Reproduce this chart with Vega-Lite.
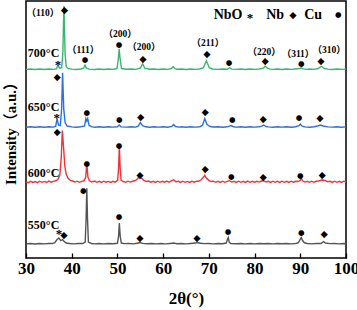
{
  "$schema": "https://vega.github.io/schema/vega-lite/v6.json",
  "width": 320,
  "height": 257,
  "autosize": {"type": "none"},
  "padding": {"left": 26, "top": 1, "right": 11, "bottom": 52},
  "config": {
    "view": {"stroke": "black", "strokeWidth": 1.5},
    "font": "Liberation Serif"
  },
  "datasets": {
    "lines": [
      {"s":"700","t":30,"i":189.4},{"s":"700","t":31,"i":189.8},{"s":"700","t":32,"i":189.3},{"s":"700","t":33,"i":189.7},{"s":"700","t":34,"i":189.2},{"s":"700","t":35,"i":189.8},{"s":"700","t":36,"i":189.4},{"s":"700","t":36.6,"i":189.9},{"s":"700","t":37.0,"i":193},{"s":"700","t":37.4,"i":190.5},{"s":"700","t":37.8,"i":191},{"s":"700","t":38.05,"i":205},{"s":"700","t":38.3,"i":253},{"s":"700","t":38.55,"i":205},{"s":"700","t":38.8,"i":192},{"s":"700","t":39.2,"i":190.3},{"s":"700","t":40,"i":189.6},{"s":"700","t":41,"i":189.3},{"s":"700","t":42,"i":189.8},{"s":"700","t":42.6,"i":190.5},{"s":"700","t":42.9,"i":193.5},{"s":"700","t":43.2,"i":190.6},{"s":"700","t":43.8,"i":189.6},{"s":"700","t":45,"i":189.3},{"s":"700","t":46,"i":189.7},{"s":"700","t":47,"i":189.3},{"s":"700","t":48,"i":189.8},{"s":"700","t":49,"i":189.4},{"s":"700","t":49.9,"i":190.2},{"s":"700","t":50.2,"i":200},{"s":"700","t":50.38,"i":210},{"s":"700","t":50.58,"i":200},{"s":"700","t":50.9,"i":190.2},{"s":"700","t":52,"i":189.5},{"s":"700","t":53,"i":189.8},{"s":"700","t":54,"i":189.4},{"s":"700","t":55.0,"i":190.5},{"s":"700","t":55.5,"i":195},{"s":"700","t":56.0,"i":190.5},{"s":"700","t":57,"i":189.5},{"s":"700","t":58,"i":189.8},{"s":"700","t":59,"i":189.3},{"s":"700","t":60,"i":189.7},{"s":"700","t":61,"i":189.4},{"s":"700","t":61.8,"i":190.2},{"s":"700","t":62.2,"i":192},{"s":"700","t":62.6,"i":190},{"s":"700","t":63,"i":189.5},{"s":"700","t":64,"i":189.8},{"s":"700","t":65,"i":189.3},{"s":"700","t":66,"i":189.7},{"s":"700","t":67,"i":189.4},{"s":"700","t":68,"i":189.8},{"s":"700","t":68.8,"i":191},{"s":"700","t":69.45,"i":198},{"s":"700","t":70.1,"i":191},{"s":"700","t":70.8,"i":189.8},{"s":"700","t":72,"i":189.4},{"s":"700","t":73,"i":189.8},{"s":"700","t":74,"i":189.5},{"s":"700","t":74.5,"i":191},{"s":"700","t":75,"i":189.6},{"s":"700","t":76,"i":189.4},{"s":"700","t":77,"i":189.8},{"s":"700","t":78,"i":189.3},{"s":"700","t":79,"i":189.7},{"s":"700","t":80,"i":189.4},{"s":"700","t":81,"i":189.8},{"s":"700","t":81.9,"i":190.6},{"s":"700","t":82.3,"i":192.5},{"s":"700","t":82.8,"i":190.5},{"s":"700","t":83.5,"i":189.6},{"s":"700","t":84,"i":189.4},{"s":"700","t":85,"i":189.8},{"s":"700","t":86,"i":189.3},{"s":"700","t":87,"i":189.7},{"s":"700","t":88,"i":189.4},{"s":"700","t":89,"i":189.8},{"s":"700","t":89.8,"i":190.2},{"s":"700","t":90.2,"i":191},{"s":"700","t":90.6,"i":189.8},{"s":"700","t":91.5,"i":189.4},{"s":"700","t":92,"i":189.7},{"s":"700","t":93,"i":189.4},{"s":"700","t":93.9,"i":190.2},{"s":"700","t":94.6,"i":192.5},{"s":"700","t":95.3,"i":190.2},{"s":"700","t":96,"i":189.6},{"s":"700","t":97,"i":189.3},{"s":"700","t":98,"i":189.8},{"s":"700","t":99,"i":189.4},{"s":"700","t":100,"i":189.6},

      {"s":"650","t":30,"i":131.3},{"s":"650","t":31,"i":131.7},{"s":"650","t":32,"i":131.2},{"s":"650","t":33,"i":131.8},{"s":"650","t":34,"i":131.3},{"s":"650","t":35,"i":131.7},{"s":"650","t":36,"i":131.4},{"s":"650","t":36.5,"i":132.3},{"s":"650","t":36.8,"i":140},{"s":"650","t":37.1,"i":133.5},{"s":"650","t":37.5,"i":133},{"s":"650","t":37.8,"i":150},{"s":"650","t":38.0,"i":186},{"s":"650","t":38.25,"i":150},{"s":"650","t":38.55,"i":136},{"s":"650","t":39,"i":132.5},{"s":"650","t":40,"i":131.6},{"s":"650","t":41,"i":131.3},{"s":"650","t":42,"i":131.8},{"s":"650","t":42.8,"i":132.5},{"s":"650","t":43.1,"i":140},{"s":"650","t":43.3,"i":137.5},{"s":"650","t":43.5,"i":140},{"s":"650","t":43.8,"i":133},{"s":"650","t":44.5,"i":131.6},{"s":"650","t":45,"i":131.3},{"s":"650","t":46,"i":131.8},{"s":"650","t":47,"i":131.3},{"s":"650","t":48,"i":131.7},{"s":"650","t":49,"i":131.4},{"s":"650","t":50,"i":131.8},{"s":"650","t":50.4,"i":133.5},{"s":"650","t":50.8,"i":131.6},{"s":"650","t":52,"i":131.4},{"s":"650","t":53,"i":131.8},{"s":"650","t":54,"i":131.4},{"s":"650","t":54.6,"i":132.6},{"s":"650","t":55.0,"i":136},{"s":"650","t":55.5,"i":132.8},{"s":"650","t":56.2,"i":131.7},{"s":"650","t":57,"i":131.3},{"s":"650","t":58,"i":131.8},{"s":"650","t":59,"i":131.4},{"s":"650","t":60,"i":131.7},{"s":"650","t":61,"i":131.3},{"s":"650","t":61.9,"i":132.2},{"s":"650","t":62.3,"i":134},{"s":"650","t":62.7,"i":132},{"s":"650","t":63.5,"i":131.4},{"s":"650","t":64,"i":131.8},{"s":"650","t":65,"i":131.3},{"s":"650","t":66,"i":131.7},{"s":"650","t":67,"i":131.4},{"s":"650","t":68,"i":131.8},{"s":"650","t":68.6,"i":133},{"s":"650","t":69.1,"i":140},{"s":"650","t":69.6,"i":134},{"s":"650","t":70.3,"i":132},{"s":"650","t":71,"i":131.5},{"s":"650","t":72,"i":131.8},{"s":"650","t":73,"i":131.3},{"s":"650","t":74,"i":131.7},{"s":"650","t":74.9,"i":133},{"s":"650","t":75.4,"i":131.7},{"s":"650","t":76,"i":131.4},{"s":"650","t":77,"i":131.8},{"s":"650","t":78,"i":131.3},{"s":"650","t":79,"i":131.7},{"s":"650","t":80,"i":131.4},{"s":"650","t":81,"i":131.8},{"s":"650","t":81.6,"i":132.4},{"s":"650","t":82,"i":133.5},{"s":"650","t":82.5,"i":132},{"s":"650","t":83,"i":131.6},{"s":"650","t":84,"i":131.3},{"s":"650","t":85,"i":131.8},{"s":"650","t":86,"i":131.4},{"s":"650","t":87,"i":131.7},{"s":"650","t":88,"i":131.3},{"s":"650","t":89,"i":131.8},{"s":"650","t":89.7,"i":132.8},{"s":"650","t":90,"i":134.5},{"s":"650","t":90.4,"i":132.3},{"s":"650","t":91,"i":131.6},{"s":"650","t":92,"i":131.3},{"s":"650","t":93,"i":131.8},{"s":"650","t":93.8,"i":132.5},{"s":"650","t":94.4,"i":133.5},{"s":"650","t":95,"i":132.5},{"s":"650","t":96,"i":131.6},{"s":"650","t":97,"i":131.4},{"s":"650","t":98,"i":131.8},{"s":"650","t":99,"i":131.3},{"s":"650","t":100,"i":131.6},

      {"s":"600","t":30,"i":76.5},{"s":"600","t":30.5,"i":75.6},{"s":"600","t":31,"i":77},{"s":"600","t":31.5,"i":75.8},{"s":"600","t":32,"i":76.8},{"s":"600","t":32.5,"i":75.7},{"s":"600","t":33,"i":77.1},{"s":"600","t":33.5,"i":76},{"s":"600","t":34,"i":76.9},{"s":"600","t":34.5,"i":75.8},{"s":"600","t":35,"i":77.2},{"s":"600","t":35.5,"i":76.1},{"s":"600","t":36,"i":77},{"s":"600","t":36.5,"i":77.5},{"s":"600","t":37,"i":79},{"s":"600","t":37.4,"i":83},{"s":"600","t":37.7,"i":100},{"s":"600","t":37.95,"i":128},{"s":"600","t":38.2,"i":112},{"s":"600","t":38.5,"i":92},{"s":"600","t":38.8,"i":84},{"s":"600","t":39.2,"i":80},{"s":"600","t":39.7,"i":78},{"s":"600","t":40.2,"i":77.3},{"s":"600","t":40.7,"i":76.2},{"s":"600","t":41.2,"i":77.1},{"s":"600","t":41.7,"i":76},{"s":"600","t":42.2,"i":77},{"s":"600","t":42.7,"i":77.5},{"s":"600","t":43.05,"i":81},{"s":"600","t":43.3,"i":95},{"s":"600","t":43.55,"i":81},{"s":"600","t":43.9,"i":77.5},{"s":"600","t":44.4,"i":76.3},{"s":"600","t":45,"i":77.2},{"s":"600","t":45.5,"i":76},{"s":"600","t":46,"i":77},{"s":"600","t":46.5,"i":75.9},{"s":"600","t":47,"i":77.1},{"s":"600","t":47.5,"i":76.1},{"s":"600","t":48,"i":76.9},{"s":"600","t":48.5,"i":75.8},{"s":"600","t":49,"i":77},{"s":"600","t":49.5,"i":76.2},{"s":"600","t":50.05,"i":78},{"s":"600","t":50.25,"i":90},{"s":"600","t":50.42,"i":113},{"s":"600","t":50.6,"i":90},{"s":"600","t":50.8,"i":78},{"s":"600","t":51.3,"i":76.8},{"s":"600","t":51.8,"i":76},{"s":"600","t":52.3,"i":77.1},{"s":"600","t":52.8,"i":76.2},{"s":"600","t":53.3,"i":77},{"s":"600","t":53.8,"i":77.5},{"s":"600","t":54.3,"i":79},{"s":"600","t":54.8,"i":81.5},{"s":"600","t":55.3,"i":80},{"s":"600","t":55.8,"i":78},{"s":"600","t":56.3,"i":76.8},{"s":"600","t":56.8,"i":77.2},{"s":"600","t":57.3,"i":76.1},{"s":"600","t":57.8,"i":77},{"s":"600","t":58.3,"i":75.9},{"s":"600","t":58.8,"i":77.1},{"s":"600","t":59.3,"i":76},{"s":"600","t":59.8,"i":77},{"s":"600","t":60.3,"i":76.1},{"s":"600","t":60.8,"i":77.2},{"s":"600","t":61.3,"i":76},{"s":"600","t":61.8,"i":77.5},{"s":"600","t":62.3,"i":78.5},{"s":"600","t":62.8,"i":76.5},{"s":"600","t":63.3,"i":77},{"s":"600","t":63.8,"i":75.9},{"s":"600","t":64.3,"i":77.1},{"s":"600","t":64.8,"i":76},{"s":"600","t":65.3,"i":76.9},{"s":"600","t":65.8,"i":75.8},{"s":"600","t":66.3,"i":77},{"s":"600","t":66.8,"i":76.1},{"s":"600","t":67.3,"i":77.1},{"s":"600","t":67.8,"i":77},{"s":"600","t":68.3,"i":78.5},{"s":"600","t":68.8,"i":81},{"s":"600","t":69.1,"i":83},{"s":"600","t":69.5,"i":80},{"s":"600","t":70,"i":78},{"s":"600","t":70.5,"i":76.8},{"s":"600","t":71,"i":77.1},{"s":"600","t":71.5,"i":76},{"s":"600","t":72,"i":77},{"s":"600","t":72.5,"i":75.9},{"s":"600","t":73,"i":77.1},{"s":"600","t":73.5,"i":76},{"s":"600","t":74,"i":76.9},{"s":"600","t":74.5,"i":77.6},{"s":"600","t":75,"i":76.2},{"s":"600","t":75.5,"i":77},{"s":"600","t":76,"i":75.9},{"s":"600","t":76.5,"i":77.1},{"s":"600","t":77,"i":76},{"s":"600","t":77.5,"i":77},{"s":"600","t":78,"i":75.9},{"s":"600","t":78.5,"i":77.2},{"s":"600","t":79,"i":76},{"s":"600","t":79.5,"i":77},{"s":"600","t":80,"i":76.1},{"s":"600","t":80.5,"i":77},{"s":"600","t":81,"i":76.2},{"s":"600","t":81.5,"i":77.3},{"s":"600","t":82,"i":77.6},{"s":"600","t":82.5,"i":76.3},{"s":"600","t":83,"i":77},{"s":"600","t":83.5,"i":75.9},{"s":"600","t":84,"i":77.1},{"s":"600","t":84.5,"i":76},{"s":"600","t":85,"i":77},{"s":"600","t":85.5,"i":75.9},{"s":"600","t":86,"i":77.1},{"s":"600","t":86.5,"i":76},{"s":"600","t":87,"i":77},{"s":"600","t":87.5,"i":75.9},{"s":"600","t":88,"i":77.1},{"s":"600","t":88.5,"i":76.1},{"s":"600","t":89,"i":77},{"s":"600","t":89.5,"i":76.8},{"s":"600","t":90,"i":78},{"s":"600","t":90.2,"i":80},{"s":"600","t":90.5,"i":77.5},{"s":"600","t":91,"i":76.2},{"s":"600","t":91.5,"i":77},{"s":"600","t":92,"i":76},{"s":"600","t":92.5,"i":77.1},{"s":"600","t":93,"i":76},{"s":"600","t":93.5,"i":77},{"s":"600","t":94,"i":77.3},{"s":"600","t":94.5,"i":78},{"s":"600","t":95,"i":78.3},{"s":"600","t":95.5,"i":77.6},{"s":"600","t":96,"i":76.5},{"s":"600","t":96.5,"i":77},{"s":"600","t":97,"i":75.9},{"s":"600","t":97.5,"i":77.1},{"s":"600","t":98,"i":76},{"s":"600","t":98.5,"i":77},{"s":"600","t":99,"i":75.9},{"s":"600","t":99.5,"i":77.1},{"s":"600","t":100,"i":76.3},

      {"s":"550","t":30,"i":14.2},{"s":"550","t":31,"i":14.6},{"s":"550","t":32,"i":14.1},{"s":"550","t":33,"i":14.6},{"s":"550","t":34,"i":14.2},{"s":"550","t":35,"i":14.6},{"s":"550","t":35.8,"i":14.5},{"s":"550","t":36.3,"i":15.5},{"s":"550","t":36.8,"i":18.5},{"s":"550","t":37.2,"i":20},{"s":"550","t":37.6,"i":17.5},{"s":"550","t":38.0,"i":18.5},{"s":"550","t":38.3,"i":16.8},{"s":"550","t":38.8,"i":15},{"s":"550","t":39.5,"i":14.5},{"s":"550","t":40.5,"i":14.2},{"s":"550","t":41.5,"i":14.6},{"s":"550","t":42.4,"i":14.5},{"s":"550","t":42.95,"i":16},{"s":"550","t":43.15,"i":40},{"s":"550","t":43.3,"i":70},{"s":"550","t":43.45,"i":40},{"s":"550","t":43.65,"i":16},{"s":"550","t":44.3,"i":14.6},{"s":"550","t":45,"i":14.2},{"s":"550","t":46,"i":14.6},{"s":"550","t":47,"i":14.2},{"s":"550","t":48,"i":14.6},{"s":"550","t":49,"i":14.3},{"s":"550","t":50,"i":14.8},{"s":"550","t":50.25,"i":22},{"s":"550","t":50.42,"i":35},{"s":"550","t":50.6,"i":22},{"s":"550","t":50.85,"i":15},{"s":"550","t":51.5,"i":14.4},{"s":"550","t":52.5,"i":14.6},{"s":"550","t":53.5,"i":14.2},{"s":"550","t":54.3,"i":14.8},{"s":"550","t":54.9,"i":15.6},{"s":"550","t":55.5,"i":14.7},{"s":"550","t":56.5,"i":14.3},{"s":"550","t":57.5,"i":14.6},{"s":"550","t":58.5,"i":14.2},{"s":"550","t":59.5,"i":14.6},{"s":"550","t":60.5,"i":14.2},{"s":"550","t":61.5,"i":14.6},{"s":"550","t":62.3,"i":15},{"s":"550","t":63,"i":14.3},{"s":"550","t":64,"i":14.6},{"s":"550","t":65,"i":14.2},{"s":"550","t":66,"i":14.6},{"s":"550","t":67,"i":15},{"s":"550","t":67.5,"i":15.6},{"s":"550","t":68.2,"i":14.8},{"s":"550","t":69,"i":14.4},{"s":"550","t":70,"i":14.6},{"s":"550","t":71,"i":14.2},{"s":"550","t":72,"i":14.6},{"s":"550","t":73,"i":14.3},{"s":"550","t":73.8,"i":15},{"s":"550","t":74.1,"i":19},{"s":"550","t":74.25,"i":20.5},{"s":"550","t":74.45,"i":16},{"s":"550","t":74.8,"i":14.6},{"s":"550","t":76,"i":14.3},{"s":"550","t":77,"i":14.6},{"s":"550","t":78,"i":14.2},{"s":"550","t":79,"i":14.6},{"s":"550","t":80,"i":14.2},{"s":"550","t":81,"i":14.6},{"s":"550","t":82,"i":14.3},{"s":"550","t":83,"i":14.6},{"s":"550","t":84,"i":14.2},{"s":"550","t":85,"i":14.6},{"s":"550","t":86,"i":14.3},{"s":"550","t":87,"i":14.6},{"s":"550","t":88,"i":14.2},{"s":"550","t":89,"i":14.6},{"s":"550","t":89.6,"i":15.5},{"s":"550","t":90,"i":19},{"s":"550","t":90.2,"i":20.5},{"s":"550","t":90.5,"i":17.5},{"s":"550","t":90.9,"i":15.3},{"s":"550","t":91.5,"i":14.6},{"s":"550","t":92.5,"i":14.2},{"s":"550","t":93.5,"i":14.6},{"s":"550","t":94.5,"i":14.6},{"s":"550","t":95.1,"i":16.5},{"s":"550","t":95.5,"i":15},{"s":"550","t":96.5,"i":14.4},{"s":"550","t":97.5,"i":14.6},{"s":"550","t":98.5,"i":14.2},{"s":"550","t":99.5,"i":14.6},{"s":"550","t":100,"i":14.3}
    ],
    "symbols": [
      {"m":"◆","t":38.4,"i":249},{"m":"*","t":37.0,"i":197},{"m":"●","t":42.9,"i":199},{"m":"●","t":50.35,"i":214},{"m":"◆","t":55.6,"i":200},{"m":"◆","t":69.6,"i":205},{"m":"●","t":74.4,"i":196},{"m":"◆","t":82.3,"i":198},{"m":"●","t":90.2,"i":195},{"m":"◆","t":94.5,"i":198},
      {"m":"◆","t":36.8,"i":182},{"m":"*","t":36.7,"i":144},{"m":"●","t":43.3,"i":146},{"m":"●","t":50.4,"i":139},{"m":"◆","t":55.1,"i":142},{"m":"◆","t":69.2,"i":147},{"m":"●","t":75.1,"i":139},{"m":"◆","t":81.9,"i":140},{"m":"●","t":89.7,"i":141},{"m":"◆","t":94.3,"i":141},
      {"m":"◆","t":36.8,"i":126},{"m":"●","t":43.3,"i":94},{"m":"●","t":50.35,"i":112},{"m":"◆","t":54.9,"i":83},{"m":"◆","t":69.2,"i":89},{"m":"●","t":74.9,"i":81},{"m":"◆","t":81.9,"i":81},{"m":"●","t":90.0,"i":82},{"m":"◆","t":94.8,"i":83},
      {"m":"*","t":37.2,"i":27},{"m":"◆","t":38.3,"i":23},{"m":"●","t":42.5,"i":67},{"m":"●","t":50.35,"i":41},{"m":"◆","t":54.9,"i":20},{"m":"◆","t":67.4,"i":20},{"m":"●","t":74.2,"i":26},{"m":"●","t":90.2,"i":25},{"m":"◆","t":95.2,"i":24},
      {"m":"*","t":79.0,"i":244},{"m":"◆","t":88.4,"i":244},{"m":"●","t":98.3,"i":244}
    ],
    "hkl": [
      {"label":"（110）","t":33.7,"i":246},{"label":"（111）","t":42.5,"i":209},{"label":"（200）","t":50.6,"i":225},{"label":"（200）","t":55.8,"i":212},{"label":"（211）","t":69.8,"i":216},{"label":"（220）","t":82.1,"i":207},{"label":"（311）","t":89.5,"i":205},{"label":"（310）","t":96.3,"i":209}
    ],
    "temps": [
      {"label":"700°C","t":30.4,"i":206},{"label":"650°C","t":30.4,"i":152},{"label":"600°C","t":30.4,"i":85},{"label":"550°C","t":30.4,"i":33}
    ],
    "legend": [
      {"label":"NbO","t":74.2,"i":244},{"label":"Nb","t":84.5,"i":244},{"label":"Cu","t":92.8,"i":244}
    ]
  },
  "layer": [
    {
      "data": {"name": "lines"},
      "mark": {"type": "line", "strokeWidth": 1.4},
      "encoding": {
        "x": {
          "field": "t", "type": "quantitative",
          "scale": {"domain": [30, 100], "nice": false, "zero": false},
          "axis": {
            "title": "2θ(°)",
            "values": [30,35,40,45,50,55,60,65,70,75,80,85,90,95,100],
            "labelExpr": "datum.value % 10 === 0 ? datum.label : ''",
            "tickSize": {"condition": {"test": "datum.value % 10 === 0", "value": -5}, "value": -3},
            "tickColor": "black",
            "tickWidth": 1.3,
            "domain": false,
            "grid": false,
            "labelFont": "Liberation Serif",
            "labelFontWeight": "bold",
            "labelFontSize": 17,
            "labelColor": "black",
            "labelPadding": 7,
            "labelFlush": false,
            "labelOverlap": false,
            "titleFont": "Liberation Serif",
            "titleFontWeight": "bold",
            "titleFontSize": 17,
            "titleColor": "black",
            "titlePadding": 14
          }
        },
        "y": {
          "field": "i", "type": "quantitative",
          "scale": {"domain": [0, 258], "nice": false, "zero": false},
          "axis": {
            "title": "Intensity（a.u.）",
            "domain": false, "ticks": false, "labels": false, "grid": false,
            "titleFont": "Liberation Serif, Noto Sans CJK SC",
            "titleFontWeight": "bold",
            "titleFontSize": 15,
            "titleColor": "black",
            "titlePadding": 8
          }
        },
        "color": {
          "field": "s", "type": "nominal",
          "scale": {"domain": ["550","600","650","700"], "range": ["#555555","#ee3339","#2a6fe6","#3cb371"]},
          "legend": null
        },
        "detail": {"field": "s"}
      }
    },
    {
      "data": {"name": "symbols"},
      "transform": [{"filter": "datum.m === '●'"}],
      "mark": {"type": "text", "font": "DejaVu Sans", "fontSize": 7.5, "color": "black", "align": "center", "baseline": "middle"},
      "encoding": {
        "x": {"field": "t", "type": "quantitative"},
        "y": {"field": "i", "type": "quantitative"},
        "text": {"field": "m"}
      }
    },
    {
      "data": {"name": "symbols"},
      "transform": [{"filter": "datum.m === '◆'"}],
      "mark": {"type": "text", "font": "DejaVu Sans", "fontSize": 9.5, "color": "black", "align": "center", "baseline": "middle"},
      "encoding": {
        "x": {"field": "t", "type": "quantitative"},
        "y": {"field": "i", "type": "quantitative"},
        "text": {"field": "m"}
      }
    },
    {
      "data": {"name": "symbols"},
      "transform": [{"filter": "datum.m === '*'"}],
      "mark": {"type": "text", "font": "Liberation Serif", "fontWeight": "bold", "fontSize": 13, "color": "black", "align": "center", "baseline": "middle", "dy": 3},
      "encoding": {
        "x": {"field": "t", "type": "quantitative"},
        "y": {"field": "i", "type": "quantitative"},
        "text": {"field": "m"}
      }
    },
    {
      "data": {"name": "hkl"},
      "mark": {"type": "text", "font": "Liberation Serif, Noto Sans CJK SC", "fontWeight": "bold", "fontSize": 9.5, "color": "black", "align": "center", "baseline": "middle"},
      "encoding": {
        "x": {"field": "t", "type": "quantitative"},
        "y": {"field": "i", "type": "quantitative"},
        "text": {"field": "label"}
      }
    },
    {
      "data": {"name": "temps"},
      "mark": {"type": "text", "font": "Liberation Serif", "fontWeight": "bold", "fontSize": 12, "color": "black", "align": "left", "baseline": "middle"},
      "encoding": {
        "x": {"field": "t", "type": "quantitative"},
        "y": {"field": "i", "type": "quantitative"},
        "text": {"field": "label"}
      }
    },
    {
      "data": {"name": "legend"},
      "mark": {"type": "text", "font": "Liberation Serif", "fontWeight": "bold", "fontSize": 14, "color": "black", "align": "center", "baseline": "middle"},
      "encoding": {
        "x": {"field": "t", "type": "quantitative"},
        "y": {"field": "i", "type": "quantitative"},
        "text": {"field": "label"}
      }
    }
  ]
}
